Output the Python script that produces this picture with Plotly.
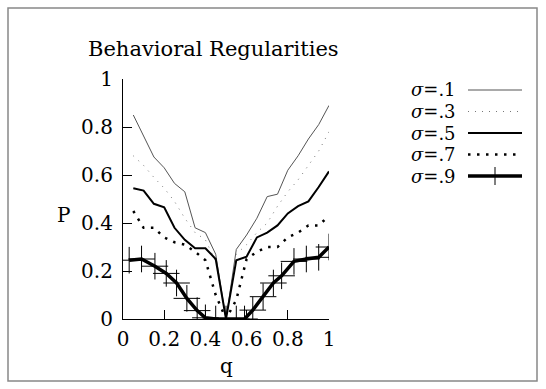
import plotly.graph_objects as go

# ---------------- data ----------------
q = [0.05, 0.10, 0.15, 0.20, 0.25, 0.30, 0.35, 0.40, 0.45, 0.50,
     0.55, 0.60, 0.65, 0.70, 0.75, 0.80, 0.85, 0.90, 0.95, 1.00]
p_s1 = [0.85, 0.76, 0.675, 0.63, 0.565, 0.53, 0.38, 0.36, 0.27, 0.0,
        0.29, 0.35, 0.42, 0.51, 0.52, 0.62, 0.68, 0.75, 0.81, 0.89]
p_s3 = [0.68, 0.64, 0.59, 0.545, 0.49, 0.42, 0.36, 0.33, 0.24, 0.0,
        0.27, 0.31, 0.36, 0.40, 0.47, 0.53, 0.58, 0.64, 0.70, 0.78]
p_s5 = [0.545, 0.535, 0.48, 0.465, 0.38, 0.33, 0.295, 0.295, 0.25, 0.0,
        0.245, 0.26, 0.34, 0.36, 0.39, 0.44, 0.47, 0.49, 0.55, 0.615]
p_s7 = [0.45, 0.38, 0.38, 0.34, 0.32, 0.31, 0.28, 0.245, 0.10, 0.0,
        0.08, 0.25, 0.28, 0.30, 0.30, 0.34, 0.36, 0.39, 0.39, 0.43]
q_s9 = [0.03, 0.09, 0.155, 0.21, 0.26, 0.31, 0.36, 0.40, 0.45, 0.50,
        0.55, 0.59, 0.63, 0.68, 0.73, 0.77, 0.83, 0.89, 0.95, 1.00]
p_s9 = [0.245, 0.25, 0.22, 0.19, 0.15, 0.086, 0.035, 0.005, 0.0, 0.0,
        0.0, 0.0, 0.037, 0.093, 0.15, 0.18, 0.24, 0.25, 0.257, 0.30]

legend_labels = ["<i>σ</i>=.1", "<i>σ</i>=.3", "<i>σ</i>=.5", "<i>σ</i>=.7", "<i>σ</i>=.9"]
x_ticks = [0, 0.2, 0.4, 0.6, 0.8, 1]
x_ticklabels = ["0", "0.2", "0.4", "0.6", "0.8", "1"]
y_ticks = [0, 0.2, 0.4, 0.6, 0.8, 1]
y_ticklabels = ["0", "0.2", "0.4", "0.6", "0.8", "1"]

# ---------------- layout geometry ----------------
W, H = 546, 389
L, R, T, B = 123, 217, 79, 70
PW, PH = W - L - R, H - T - B
FONT = "DejaVu Serif"
FS = 20
LEG_FS = 18


def px(xp):
    return (xp - L) / PW


def py(yp):
    return (H - B - yp) / PH


styles = [
    dict(color="#555555", width=1, dash="solid"),
    dict(color="#777777", width=1, dash="1px,6px"),
    dict(color="black", width=2, dash="solid"),
    dict(color="black", width=2.5, dash="2.5px,6.5px"),
    dict(color="black", width=3.5, dash="solid"),
]

fig = go.Figure()
series = [(q, p_s1), (q, p_s3), (q, p_s5), (q, p_s7)]
for (xs, ys), st in zip(series, styles[:4]):
    fig.add_trace(go.Scatter(x=xs, y=ys, mode="lines", line=st,
                             showlegend=False, hoverinfo="skip"))
fig.add_trace(go.Scatter(x=q_s9, y=p_s9, mode="lines+markers", line=styles[4],
                         marker=dict(symbol="cross-thin", size=19,
                                     line=dict(color="black", width=1)),
                         showlegend=False, hoverinfo="skip"))

shapes = []
annotations = []
# outer grey frame
shapes.append(dict(type="rect", xref="paper", yref="paper",
                   x0=px(8), x1=px(537), y0=py(381), y1=py(8),
                   line=dict(color="#888888", width=1.5)))

# manual legend: text on left, sample on right
row_y = [90, 111.5, 133, 154.5, 176]
for lab, st, yy in zip(legend_labels, styles, row_y):
    annotations.append(dict(x=px(458), y=py(yy), xref="paper", yref="paper",
                            text=lab, showarrow=False, xanchor="right",
                            yanchor="middle",
                            font=dict(family=FONT, size=LEG_FS, color="black")))
    shapes.append(dict(type="line", xref="paper", yref="paper",
                       x0=px(468), x1=px(522), y0=py(yy), y1=py(yy),
                       line=st))
# plus sign on sigma=.9 legend sample
shapes.append(dict(type="line", xref="paper", yref="paper",
                   x0=px(495), x1=px(495), y0=py(176 - 9), y1=py(176 + 9),
                   line=dict(color="black", width=1)))

# title
annotations.append(dict(x=px(213), y=py(49), xref="paper", yref="paper",
                        text="Behavioral Regularities", showarrow=False,
                        xanchor="center", yanchor="middle",
                        font=dict(family=FONT, size=21, color="black")))
# axis titles
annotations.append(dict(x=px(63), y=py(215), xref="paper", yref="paper",
                        text="P", showarrow=False, xanchor="center",
                        yanchor="middle",
                        font=dict(family=FONT, size=FS, color="black")))
annotations.append(dict(x=px(226), y=py(366), xref="paper", yref="paper",
                        text="q", showarrow=False, xanchor="center",
                        yanchor="middle",
                        font=dict(family=FONT, size=FS, color="black")))

fig.update_layout(
    width=W, height=H,
    margin=dict(l=L, r=R, t=T, b=B),
    paper_bgcolor="white", plot_bgcolor="white",
    shapes=shapes, annotations=annotations,
    showlegend=False,
    xaxis=dict(range=[0, 1], tickvals=x_ticks, ticktext=x_ticklabels,
               ticks="inside", ticklen=9, tickwidth=1, tickcolor="black",
               showline=True, linecolor="black", linewidth=1.2,
               showgrid=False, zeroline=False, mirror=False,
               ticklabelstandoff=2,
               tickfont=dict(family=FONT, size=FS, color="black")),
    yaxis=dict(range=[0, 1], tickvals=y_ticks, ticktext=y_ticklabels,
               ticks="inside", ticklen=9, tickwidth=1, tickcolor="black",
               showline=True, linecolor="black", linewidth=1.2,
               showgrid=False, zeroline=False, mirror=False,
               ticklabelstandoff=5,
               tickfont=dict(family=FONT, size=FS, color="black")),
)

fig.write_html("out.html")
